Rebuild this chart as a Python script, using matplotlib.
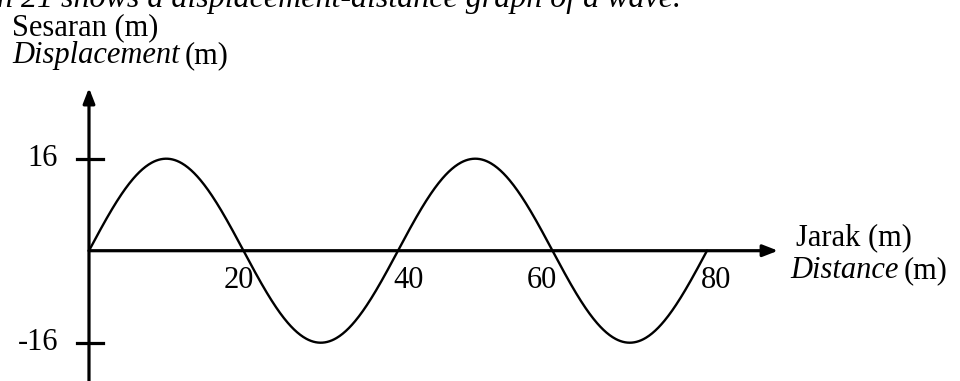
import numpy as np
import matplotlib
matplotlib.use("Agg")
import matplotlib.pyplot as plt
from matplotlib.transforms import offset_copy

# Wave parameters (metres)
amplitude = 16
wavelength = 40
wave_length_total = 80
x_tick_values = [20, 40, 60, 80]
x_tick_labels = ["20", "40", "60", "80"]
y_tick_values = [16, -16]
y_tick_labels = ["16", "-16"]

plt.rcParams["font.family"] = ["Liberation Serif", "DejaVu Serif"]

W, H = 960, 381
fig = plt.figure(figsize=(W / 100, H / 100), dpi=100)
ax = fig.add_axes([0, 0, 1, 1])
ax.set_xlim(-11.52, 112.75)
ax.set_ylim(-22.66, 43.6)
ax.axis("off")

FS = 22
LW_AX = 2.3


def px(x, y):
    """Figure-fraction position from pixel coordinates (origin top-left)."""
    return x / W, 1 - y / H


def mixed_label(x, y, italic_part, plain_part):
    """Draw an italic word followed by a plain suffix on one baseline."""
    t = fig.text(*px(x, y), italic_part, style="italic", fontsize=FS,
                 ha="left", va="baseline")
    fig.canvas.draw()
    ext = t.get_window_extent()
    fig.text(*px(ext.x1 + 5, y), plain_part, fontsize=FS,
             ha="left", va="baseline")


# Axes with arrowheads
x_end = 89.2
y_top = 28.3
arrow = dict(arrowstyle="-|>,head_length=0.9,head_width=0.35",
             lw=LW_AX, color="k", shrinkA=0, shrinkB=0)
ax.annotate("", xy=(x_end, 0), xytext=(0, 0), arrowprops=arrow)
ax.annotate("", xy=(0, y_top), xytext=(0, -22.66), arrowprops=arrow)

# Wave curve
x = np.linspace(0, wave_length_total, 800)
y = amplitude * np.sin(2 * np.pi * x / wavelength)
ax.plot(x, y, color="k", lw=1.7, solid_capstyle="round")

# y ticks crossing the axis
for v, lab in zip(y_tick_values, y_tick_labels):
    ax.plot([-1.6, 1.8], [v, v], color="k", lw=LW_AX)
    ax.text(-4.0, v, lab, ha="right", va="center", fontsize=FS)

# x tick labels below the axis
x_offsets = [-0.6, 1.4, -1.4, 1.2]
for v, lab, dx in zip(x_tick_values, x_tick_labels, x_offsets):
    ax.text(v + dx, -6.4, lab, ha="center", va="baseline", fontsize=FS)

# Axis titles
fig.text(*px(12, 35), "Sesaran (m)", ha="left", va="baseline", fontsize=FS)
mixed_label(12, 63, "Displacement", "(m)")
fig.text(*px(796, 245), "Jarak (m)", ha="left", va="baseline", fontsize=FS)
mixed_label(790, 278, "Distance", "(m)")

# Caption line above the graph
fig.text(*px(-3, 7), "n 21 shows a displacement-distance graph of a wave.",
         ha="left", va="baseline", fontsize=23, style="italic")

fig.savefig("out.png", dpi=100)
